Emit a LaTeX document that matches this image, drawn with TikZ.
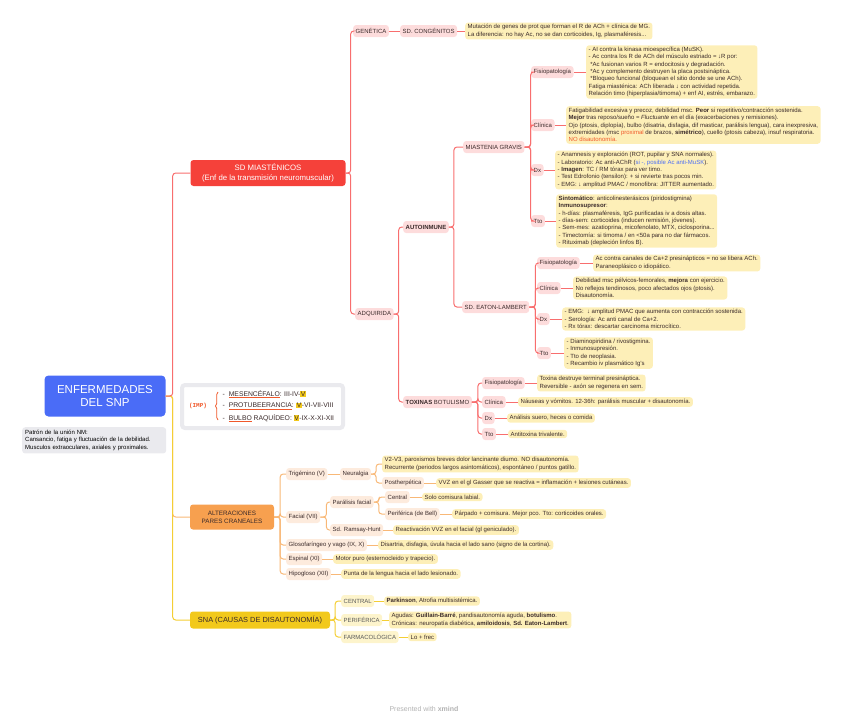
\documentclass[tikz,border=0pt]{standalone}
\usepackage{fontspec}
\setmainfont{Liberation Sans}
\setmonofont{Liberation Mono}
\usepackage{tikz}
\usetikzlibrary{decorations.pathreplacing}

\definecolor{azulraiz}{HTML}{4A6CF7}
\definecolor{rojo}{HTML}{F5413A}
\definecolor{rojolin}{HTML}{F86E6E}
\definecolor{rosa}{HTML}{FDDCDC}
\definecolor{amarillonota}{HTML}{FDEFB8}
\definecolor{naranja}{HTML}{F7A04F}
\definecolor{naranjalin}{HTML}{F8B877}
\definecolor{melocoton}{HTML}{FDEBDD}
\definecolor{amarillo}{HTML}{F2C91C}
\definecolor{amarillolin}{HTML}{F4CE34}
\definecolor{amarillosub}{HTML}{FDF4CC}
\definecolor{gristxt}{HTML}{3A2A2A}
\definecolor{resalte}{HTML}{F0582A}
\definecolor{azultxt}{HTML}{4C6EF5}
\definecolor{grisnota}{HTML}{EAEAEE}

\newcommand{\chico}{\fontsize{6}{7.3}\selectfont}
\newcommand{\subraya}[1]{{\setbox0\hbox{#1}\rlap{\color{resalte}\rule[-1.8pt]{\wd0}{0.5pt}}\box0}}
\newcommand{\marcaV}{{\setlength{\fboxsep}{0.5pt}\colorbox{amarillo}{V}}}

\begin{document}
\begin{tikzpicture}[x=1pt, y=-1pt,
    raiz/.style={fill=azulraiz, text=white, rounded corners=4pt, minimum width=121pt, minimum height=41pt, align=center, font=\fontsize{11.5}{13.5}\selectfont},
    tema/.style={rounded corners=3pt, align=center, inner sep=2pt, font=\fontsize{6.3}{8}\selectfont},
    sub/.style={anchor=west, rounded corners=3pt, inner xsep=2.5pt, inner ysep=0pt, minimum height=12pt, font=\chico, text=gristxt},
    subr/.style={sub, fill=rosa},
    subn/.style={sub, fill=melocoton},
    suba/.style={sub, fill=amarillosub, text=black!65},
    nota/.style={anchor=west, fill=amarillonota, rounded corners=3pt, align=left, inner xsep=2.5pt, inner ysep=2pt, font=\chico, text=gristxt},
    lr/.style={draw=rojolin, line width=1pt, rounded corners=3pt},
    ln/.style={draw=naranjalin, line width=1pt, rounded corners=3pt},
    la/.style={draw=amarillolin, line width=1pt, rounded corners=3pt}]
    \useasboundingbox (0,0) rectangle (848,721);

    % --- Nodo central ---
    \node[raiz] (raiz) at (105,396) {ENFERMEDADES\\DEL SNP};
    \node[anchor=north west, fill=grisnota, rounded corners=3pt, align=left, text width=138pt, inner sep=3pt, font=\chico, text=black] (patron) at (22,427)
        {Patrón de la unión NM:\\Cansancio, fatiga y fluctuación de la debilidad.\\Musculos extraoculares, axiales y proximales.};

    % --- Caja (IMP) de núcleos ---
    \node[draw=grisnota, line width=4pt, fill=white, rounded corners=3pt, minimum width=161pt, minimum height=43pt] (impbox) at (262.5,406.5) {};
    \node[font=\ttfamily\bfseries\fontsize{6}{7}\selectfont, text=resalte] (imp) at (198,406) {(IMP)};
    \draw[resalte, line width=0.7pt, decorate, decoration={brace, amplitude=2.5pt}] (218,420) -- (218,392);
    \node[anchor=west, font=\fontsize{6.8}{8}\selectfont, text=gristxt] (mesen) at (219,394) {-\hspace{4pt}\subraya{MESENCÉFALO}: III-IV-\marcaV};
    \node[anchor=west, font=\fontsize{6.8}{8}\selectfont, text=gristxt] (protu) at (219,406) {-\hspace{4pt}\subraya{PROTUBEERANCIA}: \marcaV-VI-VII-VIII};
    \node[anchor=west, font=\fontsize{6.8}{8}\selectfont, text=gristxt] (bulbo) at (219,418) {-\hspace{4pt}\subraya{BULBO} RAQUÍDEO: \marcaV-IX-X-XI-XII};

    % --- Ramas principales ---
    \node[tema, fill=rojo, text=white, minimum width=155pt, minimum height=26pt, font=\fontsize{7.8}{9.5}\selectfont] (miast) at (268,173) {SD MIASTÉNICOS\\(Enf de la transmisión neuromuscular)};
    \node[tema, fill=naranja, text=gristxt, minimum width=84pt, minimum height=25pt] (pares) at (232,517) {ALTERACIONES\\PARES CRANEALES};
    \node[tema, fill=amarillo, text=gristxt, minimum width=140pt, minimum height=17pt, font=\fontsize{7.4}{9}\selectfont] (sna) at (260,620) {SNA (CAUSAS DE DISAUTONOMÍA)};
    \draw[ln] (raiz.east) -- ++(7,0) |- (pares.west);
    \draw[la] (raiz.east) -- ++(7,0) |- (sna.west);
    \draw[lr] (raiz.east) -- ++(7,0) |- (miast.west);

    % --- Sd miasténicos: genética ---
    \node[subr] (genet) at (353,31) {GENÉTICA};
    \node[subr] (congen) at (400,31) {SD. CONGÉNITOS};
    \node[nota] (ncongen) at (465,31) {Mutación de genes de prot que forman el R de ACh + clínica de MG.\\La diferencia: no hay Ac, no se dan corticoides, Ig, plasmaféresis...};
    \draw[lr] (miast.east) -- ++(5,0) |- (genet.west);
    \draw[lr] (genet) -- (congen);
    \draw[lr] (congen) -- (ncongen);

    % --- Sd miasténicos: adquirida ---
    \node[subr] (adqui) at (355,314) {ADQUIRIDA};
    \node[subr, font=\chico\bfseries] (autoin) at (403,227) {AUTOINMUNE};
    \node[subr] (toxin) at (403,402) {\textbf{TOXINAS} BOTULISMO};
    \draw[lr] (miast.east) -- ++(5,0) |- (adqui.west);
    \draw[lr] (adqui.east) -- ++(5,0) |- (autoin.west);
    \draw[lr] (adqui.east) -- ++(5,0) |- (toxin.west);

    % Miastenia gravis
    \node[subr] (mg) at (463,147) {MIASTENIA GRAVIS};
    \node[subr] (els) at (462,307) {SD. EATON-LAMBERT};
    \draw[lr] (autoin.east) -- ++(5,0) |- (mg.west);
    \draw[lr] (autoin.east) -- ++(5,0) |- (els.west);

    \node[subr] (mgfis) at (531,72) {Fisiopatología};
    \node[subr] (mgcli) at (531,125) {Clínica};
    \node[subr] (mgdx) at (531,170) {Dx};
    \node[subr] (mgtto) at (531,221) {Tto};
    \foreach \h in {mgfis,mgcli,mgdx,mgtto}
        \draw[lr] (mg.east) -- ++(6,0) |- (\h.west);

    \node[nota] (nmgfis) at (586,72) {- AI contra la kinasa mioespecífica (MuSK).\\
        - Ac contra los R de ACh del músculo estriado = ↓R por:\\
        \ *Ac fusionan varios R = endocitosis y degradación.\\
        \ *Ac y complemento destruyen la placa postsináptica.\\
        \ *Bloqueo funcional (bloquean el sitio donde se une ACh).\\
        Fatiga miasténica: ACh liberada ↓ con actividad repetida.\\
        Relación timo (hiperplasia/timoma) + enf AI, estrés, embarazo.};
    \node[nota] (nmgcli) at (566,125) {Fatigabilidad excesiva y precoz, debilidad msc. \textbf{Peor} si repetitivo/contracción sostenida.\\
        \textbf{Mejor} tras reposo/sueño = \textit{Fluctuante} en el día (exacerbaciones y remisiones).\\
        Ojo (ptosis, diplopía), bulbo (disatria, disfagia, dif masticar, parálisis lengua), cara inexpresiva,\\
        extremidades (msc {\color{resalte}proximal} de brazos, \textbf{simétrico}), cuello (ptosis cabeza), insuf respiratoria.\\
        {\color{resalte}NO disautonomía.}};
    \node[nota] (nmgdx) at (555,170) {- Anamnesis y exploración (ROT, pupilar y SNA normales).\\
        - Laboratorio: Ac anti-AChR ({\color{azultxt}si -, posible Ac anti-MuSK}).\\
        - \textbf{Imagen}: TC / RM tórax para ver timo.\\
        - Test Edrofonio (tensilon): + si revierte tras pocos min.\\
        - EMG: ↓ amplitud PMAC / monofibra: JITTER aumentado.};
    \node[nota] (nmgtto) at (556,221) {\textbf{Sintomático}: anticolinesterásicos (piridostigmina)\\
        \textbf{Inmunosupresor}:\\
        - h-días: plasmaféresis, IgG purificadas iv a dosis altas.\\
        - días-sem: corticoides (inducen remisión, jóvenes).\\
        - Sem-mes: azatioprina, micofenolato, MTX, ciclosporina...\\
        - Timectomía: si timoma / en <50a para no dar fármacos.\\
        - Rituximab (depleción linfos B).};
    \draw[lr] (mgfis) -- (nmgfis);
    \draw[lr] (mgcli) -- (nmgcli);
    \draw[lr] (mgdx) -- (nmgdx);
    \draw[lr] (mgtto) -- (nmgtto);

    % Sd. Eaton-Lambert
    \node[subr] (elsfis) at (537,263) {Fisiopatología};
    \node[subr] (elscli) at (537,288) {Clínica};
    \node[subr] (elsdx) at (537,319) {Dx};
    \node[subr] (elstto) at (537,353) {Tto};
    \foreach \h in {elsfis,elscli,elsdx,elstto}
        \draw[lr] (els.east) -- ++(6,0) |- (\h.west);

    \node[nota] (nelsfis) at (593,263) {Ac contra canales de Ca+2 presinápticos = no se libera ACh.\\Paraneoplásico o idiopático.};
    \node[nota] (nelscli) at (573,288) {Debilidad msc pélvicos-femorales, \textbf{mejora} con ejercicio.\\No reflejos tendinosos, poco afectados ojos (ptosis).\\Disautonomía.};
    \node[nota] (nelsdx) at (562,319) {- EMG: \ ↓ amplitud PMAC que aumenta con contracción sostenida.\\- Serología: Ac anti canal de Ca+2.\\- Rx tórax: descartar carcinoma microcítico.};
    \node[nota] (nelstto) at (564,353) {- Diaminopiridina / rivostigmina.\\- Inmunosupresión.\\- Tto de neoplasia.\\- Recambio iv plasmático Ig's};
    \draw[lr] (elsfis) -- (nelsfis);
    \draw[lr] (elscli) -- (nelscli);
    \draw[lr] (elsdx) -- (nelsdx);
    \draw[lr] (elstto) -- (nelstto);

    % Toxinas: botulismo
    \node[subr] (botfis) at (482,383) {Fisiopatología};
    \node[subr] (botcli) at (482,402) {Clínica};
    \node[subr] (botdx) at (482,418) {Dx};
    \node[subr] (bottto) at (482,434) {Tto};
    \foreach \h in {botfis,botcli,botdx,bottto}
        \draw[lr] (toxin.east) -- ++(6,0) |- (\h.west);

    \node[nota] (nbotfis) at (537,383) {Toxina destruye terminal presináptica.\\Reversible - axón se regenera en sem.};
    \node[nota] (nbotcli) at (518,402) {Náuseas y vómitos. 12-36h: parálisis muscular + disautonomía.};
    \node[nota] (nbotdx) at (507,418) {Análisis suero, heces o comida};
    \node[nota] (nbottto) at (508,434) {Antitoxina trivalente.};
    \draw[lr] (botfis) -- (nbotfis);
    \draw[lr] (botcli) -- (nbotcli);
    \draw[lr] (botdx) -- (nbotdx);
    \draw[lr] (bottto) -- (nbottto);

    % --- Alteraciones de pares craneales ---
    \node[subn] (trig) at (286,474) {Trigémino (V)};
    \node[subn] (facial) at (286,517) {Facial (VII)};
    \node[subn] (glosof) at (286,545) {Glosofaríngeo y vago (IX, X)};
    \node[subn] (espinal) at (286,559) {Espinal (XI)};
    \node[subn] (hipog) at (286,574) {Hipogloso (XII)};
    \foreach \h in {trig,facial,glosof,espinal,hipog}
        \draw[ln] (pares.east) -- ++(6,0) |- (\h.west);

    \node[subn] (neur) at (340,474) {Neuralgia};
    \node[nota] (nneur) at (382,464) {V2-V3, paroxismos breves dolor lancinante diurno. NO disautonomía.\\Recurrente (periodos largos asintomáticos), espontáneo / puntos gatillo.};
    \node[subn] (posther) at (382,483) {Postherpética};
    \node[nota] (nposther) at (436,483) {VVZ en el gl Gasser que se reactiva = inflamación + lesiones cutáneas.};
    \draw[ln] (trig) -- (neur);
    \draw[ln] (neur.east) -- ++(5,0) |- (nneur.west);
    \draw[ln] (neur.east) -- ++(5,0) |- (posther.west);
    \draw[ln] (posther) -- (nposther);

    \node[subn] (paral) at (330,502) {Parálisis facial};
    \node[subn] (ramsay) at (330,530) {Sd. Ramsay-Hunt};
    \draw[ln] (facial.east) -- ++(6,0) |- (paral.west);
    \draw[ln] (facial.east) -- ++(6,0) |- (ramsay.west);
    \node[subn] (central) at (385,497) {Central};
    \node[subn] (perif) at (385,514) {Periférica (de Bell)};
    \draw[ln] (paral.east) -- ++(5,0) |- (central.west);
    \draw[ln] (paral.east) -- ++(5,0) |- (perif.west);
    \node[nota] (ncentral) at (422,497) {Solo comisura labial.};
    \node[nota] (nperif) at (452,514) {Párpado + comisura. Mejor pco. Tto: corticoides orales.};
    \node[nota] (nramsay) at (393,530) {Reactivación VVZ en el facial (gl geniculado).};
    \draw[ln] (central) -- (ncentral);
    \draw[ln] (perif) -- (nperif);
    \draw[ln] (ramsay) -- (nramsay);

    \node[nota] (nglosof) at (378,545) {Disartria, disfagia, úvula hacia el lado sano (signo de la cortina).};
    \node[nota] (nespinal) at (333,559) {Motor puro (esternocleido y trapecio).};
    \node[nota] (nhipog) at (341,574) {Punta de la lengua hacia el lado lesionado.};
    \draw[ln] (glosof) -- (nglosof);
    \draw[ln] (espinal) -- (nespinal);
    \draw[ln] (hipog) -- (nhipog);

    % --- SNA: causas de disautonomía ---
    \node[suba] (snacen) at (341,601) {CENTRAL};
    \node[suba] (snaper) at (341,620) {PERIFÉRICA};
    \node[suba] (snafar) at (341,637) {FARMACOLÓGICA};
    \foreach \h in {snacen,snaper,snafar}
        \draw[la] (sna.east) -- ++(5,0) |- (\h.west);
    \node[nota] (nsnacen) at (384,601) {\textbf{Parkinson}, Atrofia multisistémica.};
    \node[nota] (nsnaper) at (389,620) {Agudas: \textbf{Guillain-Barré}, pandisautonomía aguda, \textbf{botulismo}.\\Crónicas: neuropatía diabética, \textbf{amiloidosis}, \textbf{Sd. Eaton-Lambert}.};
    \node[nota] (nsnafar) at (408,637) {Lo + frec};
    \draw[la] (snacen) -- (nsnacen);
    \draw[la] (snaper) -- (nsnaper);
    \draw[la] (snafar) -- (nsnafar);

    % --- Marca ---
    \node[text=black!30, font=\fontsize{7}{8}\selectfont] (marca) at (424,709) {Presented with \textbf{xmind}};
\end{tikzpicture}
\end{document}
